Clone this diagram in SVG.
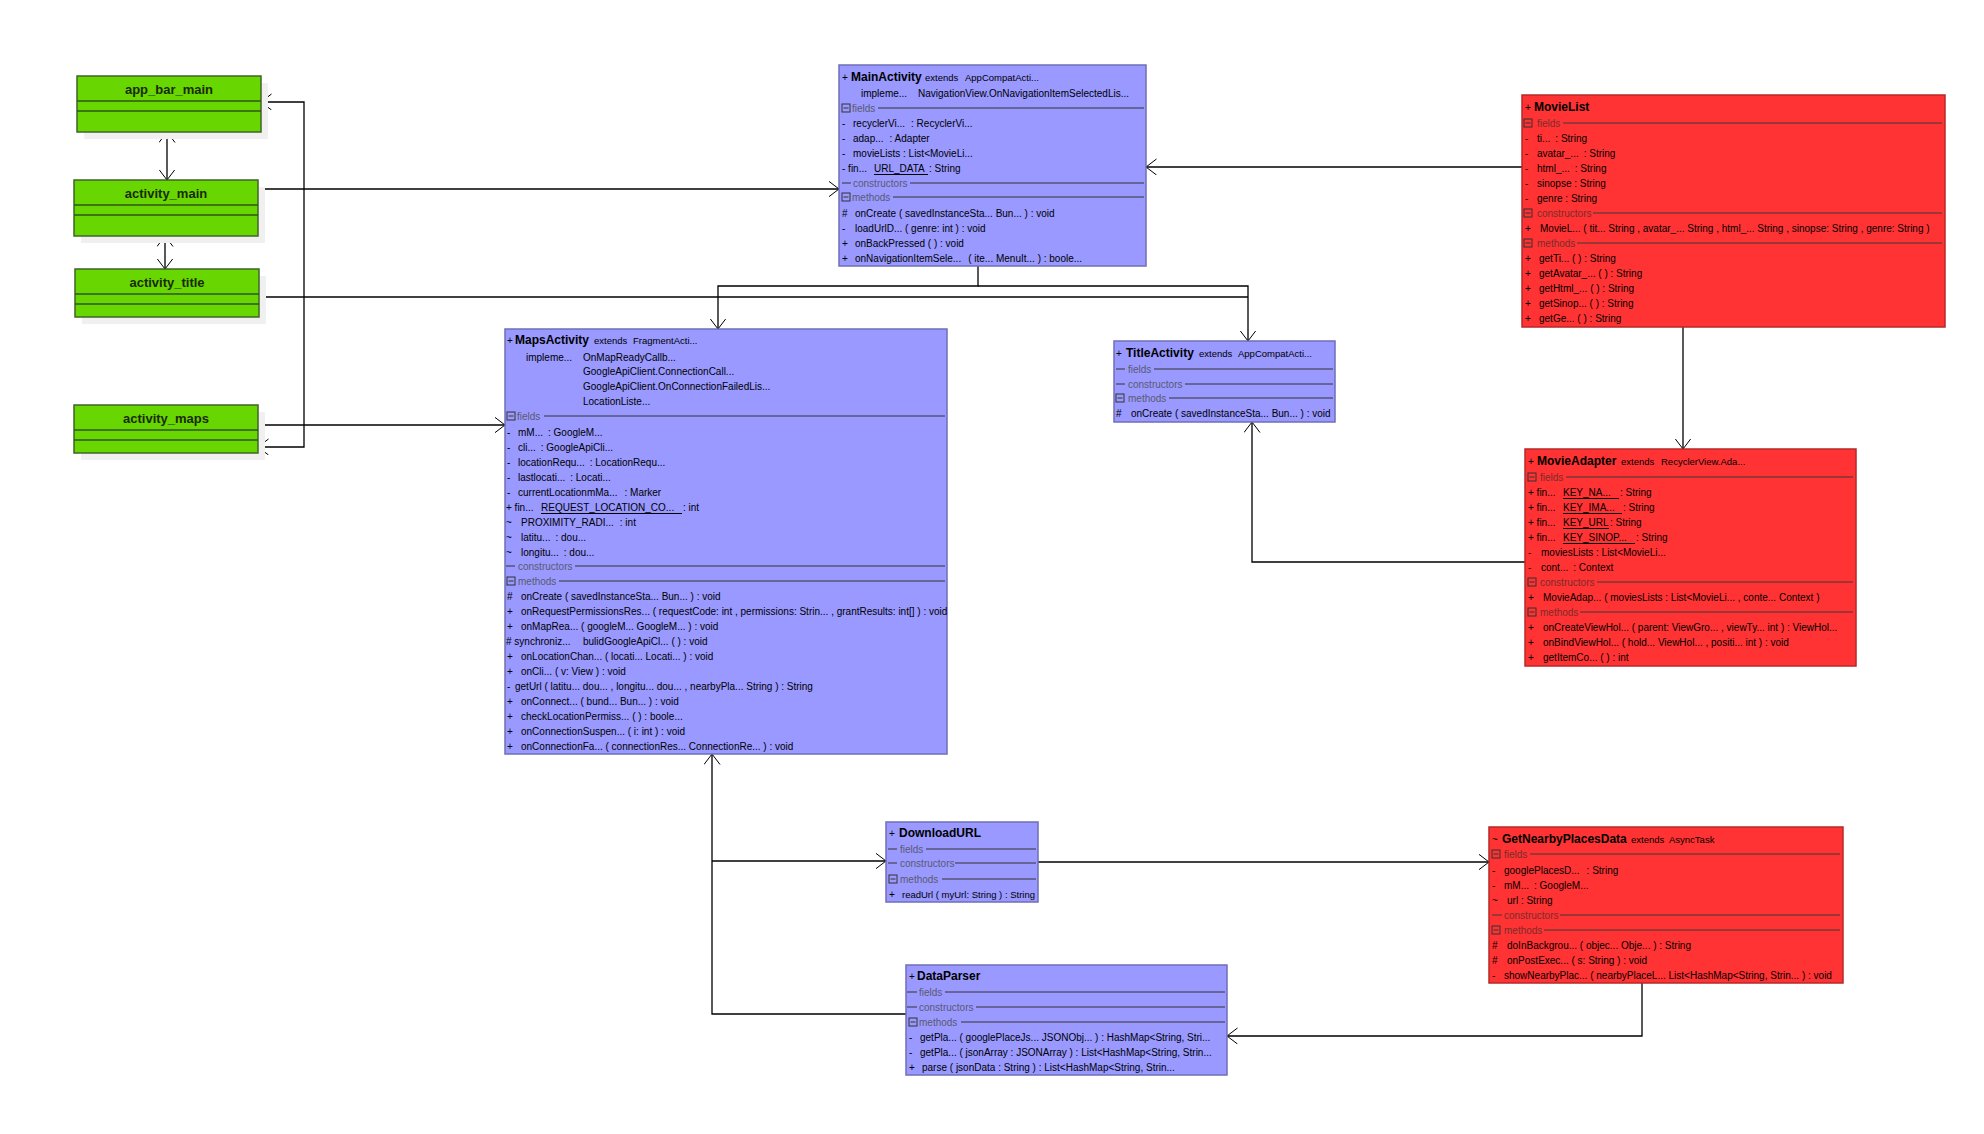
<svg xmlns="http://www.w3.org/2000/svg" width="1984" height="1134" viewBox="0 0 1984 1134">
<defs>
<style>
text{font-family:"Liberation Sans",Arial,sans-serif;font-size:10px;fill:#000}
.b{font-weight:bold;font-size:12px}
.g{font-weight:bold;font-size:13px;fill:#1a2a0a}
.e{font-size:9.5px}
.s{fill:#5a5a70}
.sr{fill:#7a2c2c}
.blue{fill:#9999ff;stroke:#6f6fb8;stroke-width:1.5}
.red{fill:#ff3333;stroke:#b82828;stroke-width:1.5}
.green{fill:#68d600;stroke:#3f6428;stroke-width:1.5}
.shd{fill:#f0f0f0}
.dv{stroke:#2e5418;stroke-width:1.5}
.ln{stroke:#333;stroke-width:1}
.lnr{stroke:#3a3a3a;stroke-width:1}
.ic{fill:none;stroke:#333;stroke-width:1}
.ul{stroke:#000;stroke-width:1}
.c{fill:none;stroke:#000;stroke-width:1.3}
</style>
<marker id="a" viewBox="0 0 12 18" markerWidth="12" markerHeight="18" refX="10.5" refY="8" orient="auto-start-reverse" markerUnits="userSpaceOnUse">
<path d="M0,0 L10.5,8 L0,16" fill="none" stroke="#000" stroke-width="1"/>
</marker>
<symbol id="ico" overflow="visible"><rect x="0" y="0" width="8" height="8" class="ic"/><line x1="1.5" y1="4" x2="6.5" y2="4" class="ic"/></symbol>
</defs>
<rect width="1984" height="1134" fill="#fff"/>

<g id="connectors">
<path class="c" d="M167,132 V180" marker-start="url(#a)" marker-end="url(#a)"/>
<path class="c" d="M165,236 V269" marker-start="url(#a)" marker-end="url(#a)"/>
<path class="c" d="M261,102 H304 V447 H258" marker-start="url(#a)" marker-end="url(#a)"/>
<path class="c" d="M258,189 H839" marker-end="url(#a)"/>
<path class="c" d="M978,266 V286 H718 V329" marker-end="url(#a)"/>
<path class="c" d="M978,286 H1248 V341" marker-end="url(#a)"/>
<path class="c" d="M259,297 H1248"/>
<path class="c" d="M258,425 H505" marker-end="url(#a)"/>
<path class="c" d="M1522,167 H1146" marker-end="url(#a)"/>
<path class="c" d="M1683,327 V449" marker-end="url(#a)"/>
<path class="c" d="M1525,562 H1252 V422" marker-end="url(#a)"/>
<path class="c" d="M906,1014 H712 V754" marker-end="url(#a)"/>
<path class="c" d="M712,861 H886" marker-end="url(#a)"/>
<path class="c" d="M1038,862 H1489" marker-end="url(#a)"/>
<path class="c" d="M1642,983 V1036 H1227" marker-end="url(#a)"/>
</g>

<g id="app_bar_main">
<rect class="shd" x="84" y="83" width="184" height="56"/>
<rect class="green" x="77" y="76" width="184" height="56"/>
<line class="dv" x1="77" y1="101" x2="261" y2="101"/><line class="dv" x1="77" y1="111" x2="261" y2="111"/>
<text class="g" x="169" y="93.5" text-anchor="middle">app_bar_main</text>
</g>
<g id="activity_main">
<rect class="shd" x="81" y="187" width="184" height="56"/>
<rect class="green" x="74" y="180" width="184" height="56"/>
<line class="dv" x1="74" y1="205" x2="258" y2="205"/><line class="dv" x1="74" y1="215" x2="258" y2="215"/>
<text class="g" x="166" y="197.5" text-anchor="middle">activity_main</text>
</g>
<g id="activity_title">
<rect class="shd" x="82" y="276" width="184" height="48"/>
<rect class="green" x="75" y="269" width="184" height="48"/>
<line class="dv" x1="75" y1="294" x2="259" y2="294"/><line class="dv" x1="75" y1="304" x2="259" y2="304"/>
<text class="g" x="167" y="286.5" text-anchor="middle">activity_title</text>
</g>
<g id="activity_maps">
<rect class="shd" x="81" y="412" width="184" height="48"/>
<rect class="green" x="74" y="405" width="184" height="48"/>
<line class="dv" x1="74" y1="430" x2="258" y2="430"/><line class="dv" x1="74" y1="440" x2="258" y2="440"/>
<text class="g" x="166" y="422.5" text-anchor="middle">activity_maps</text>
</g>

<g id="MainActivity">
<rect class="blue" x="839" y="65" width="307" height="201"/>
<text x="842" y="81">+</text><text class="b" x="851" y="81">MainActivity</text><text class="e" x="925" y="81">extends</text><text class="e" x="965" y="81">AppCompatActi...</text>
<text x="861" y="97">impleme...</text><text x="918" y="97">NavigationView.OnNavigationItemSelectedLis...</text>
<use href="#ico" x="842" y="104"/><text class="s" x="852" y="111.5">fields</text><line class="ln" x1="878" y1="108" x2="1144" y2="108"/>
<text x="842" y="126.5">-</text><text x="853" y="126.5">recyclerVi...<tspan dx="6">: RecyclerVi...</tspan></text>
<text x="842" y="141.5">-</text><text x="853" y="141.5">adap...<tspan dx="6">: Adapter</tspan></text>
<text x="842" y="156.5">-</text><text x="853" y="156.5">movieLists : List&lt;MovieLi...</text>
<text x="842" y="171.5">- fin...</text><text x="874" y="171.5">URL_DATA</text><line class="ul" x1="874" y1="174.5" x2="928" y2="174.5"/><text x="929" y="171.5">: String</text>
<line class="ln" x1="842" y1="183" x2="851" y2="183"/><text class="s" x="853" y="186.5">constructors</text><line class="ln" x1="910" y1="183" x2="1144" y2="183"/>
<use href="#ico" x="842" y="193"/><text class="s" x="852" y="200.5">methods</text><line class="ln" x1="893" y1="197" x2="1144" y2="197"/>
<text x="842" y="216.5">#</text><text x="855" y="216.5">onCreate ( savedInstanceSta... Bun... ) : void</text>
<text x="842" y="231.5">-</text><text x="855" y="231.5">loadUrlD... ( genre: int ) : void</text>
<text x="842" y="246.5">+</text><text x="855" y="246.5">onBackPressed ( ) : void</text>
<text x="842" y="261.5">+</text><text x="855" y="261.5">onNavigationItemSele...<tspan dx="7">( ite... MenuIt... ) : boole...</tspan></text>
</g>

<g id="MovieList">
<rect class="red" x="1522" y="95" width="423" height="232"/>
<text x="1525" y="111">+</text><text class="b" x="1534" y="111">MovieList</text>
<use href="#ico" x="1524" y="119"/><text class="sr" x="1537" y="126.5">fields</text><line class="lnr" x1="1563" y1="123" x2="1942" y2="123"/>
<text x="1525" y="141.5">-</text><text x="1537" y="141.5">ti...<tspan dx="5">: String</tspan></text>
<text x="1525" y="156.5">-</text><text x="1537" y="156.5">avatar_...<tspan dx="5">: String</tspan></text>
<text x="1525" y="171.5">-</text><text x="1537" y="171.5">html_...<tspan dx="5">: String</tspan></text>
<text x="1525" y="186.5">-</text><text x="1537" y="186.5">sinopse : String</text>
<text x="1525" y="201.5">-</text><text x="1537" y="201.5">genre : String</text>
<use href="#ico" x="1524" y="209"/><text class="sr" x="1537" y="216.5">constructors</text><line class="lnr" x1="1593" y1="213" x2="1942" y2="213"/>
<text x="1525" y="231.5">+</text><text x="1540" y="231.5">MovieL... ( tit... String , avatar_... String , html_... String , sinopse: String , genre: String )</text>
<use href="#ico" x="1524" y="239"/><text class="sr" x="1537" y="246.5">methods</text><line class="lnr" x1="1577" y1="243" x2="1942" y2="243"/>
<text x="1525" y="261.5">+</text><text x="1539" y="261.5">getTi... ( ) : String</text>
<text x="1525" y="276.5">+</text><text x="1539" y="276.5">getAvatar_... ( ) : String</text>
<text x="1525" y="291.5">+</text><text x="1539" y="291.5">getHtml_... ( ) : String</text>
<text x="1525" y="306.5">+</text><text x="1539" y="306.5">getSinop... ( ) : String</text>
<text x="1525" y="321.5">+</text><text x="1539" y="321.5">getGe... ( ) : String</text>
</g>

<g id="MapsActivity">
<rect class="blue" x="505" y="329" width="442" height="425"/>
<text x="507" y="344">+</text><text class="b" x="515" y="344">MapsActivity</text><text class="e" x="594" y="344">extends</text><text class="e" x="633" y="344">FragmentActi...</text>
<text x="526" y="360.5">impleme...</text><text x="583" y="360.5">OnMapReadyCallb...</text>
<text x="583" y="374.5">GoogleApiClient.ConnectionCall...</text>
<text x="583" y="389.5">GoogleApiClient.OnConnectionFailedLis...</text>
<text x="583" y="404.5">LocationListe...</text>
<use href="#ico" x="507" y="412"/><text class="s" x="517" y="419.5">fields</text><line class="ln" x1="544" y1="416" x2="945" y2="416"/>
<text x="507" y="435.5">-</text><text x="518" y="435.5">mM...<tspan dx="5">: GoogleM...</tspan></text>
<text x="507" y="450.5">-</text><text x="518" y="450.5">cli...<tspan dx="5">: GoogleApiCli...</tspan></text>
<text x="507" y="465.5">-</text><text x="518" y="465.5">locationRequ...<tspan dx="5">: LocationRequ...</tspan></text>
<text x="507" y="480.5">-</text><text x="518" y="480.5">lastlocati...<tspan dx="5">: Locati...</tspan></text>
<text x="507" y="495.5">-</text><text x="518" y="495.5">currentLocationmMa...<tspan dx="7">: Marker</tspan></text>
<text x="506" y="510.5">+ fin...</text><text x="541" y="510.5">REQUEST_LOCATION_CO...</text><line class="ul" x1="541" y1="513.5" x2="682" y2="513.5"/><text x="683" y="510.5">: int</text>
<text x="506" y="525.5">~</text><text x="521" y="525.5">PROXIMITY_RADI...<tspan dx="6">: int</tspan></text>
<text x="506" y="540.5">~</text><text x="521" y="540.5">latitu...<tspan dx="5">: dou...</tspan></text>
<text x="506" y="555.5">~</text><text x="521" y="555.5">longitu...<tspan dx="5">: dou...</tspan></text>
<line class="ln" x1="506" y1="566" x2="515" y2="566"/><text class="s" x="518" y="569.5">constructors</text><line class="ln" x1="575" y1="566" x2="945" y2="566"/>
<use href="#ico" x="507" y="577"/><text class="s" x="518" y="584.5">methods</text><line class="ln" x1="559" y1="581" x2="945" y2="581"/>
<text x="507" y="599.5">#</text><text x="521" y="599.5">onCreate ( savedInstanceSta... Bun... ) : void</text>
<text x="507" y="614.5">+</text><text x="521" y="614.5">onRequestPermissionsRes... ( requestCode: int , permissions: Strin... , grantResults: int[] ) : void</text>
<text x="507" y="629.5">+</text><text x="521" y="629.5">onMapRea... ( googleM... GoogleM... ) : void</text>
<text x="506" y="644.5"># synchroniz...</text><text x="583" y="644.5">bulidGoogleApiCl... ( ) : void</text>
<text x="507" y="659.5">+</text><text x="521" y="659.5">onLocationChan... ( locati... Locati... ) : void</text>
<text x="507" y="674.5">+</text><text x="521" y="674.5">onCli... ( v: View ) : void</text>
<text x="507" y="689.5">-</text><text x="515" y="689.5">getUrl ( latitu... dou... , longitu... dou... , nearbyPla... String ) : String</text>
<text x="507" y="704.5">+</text><text x="521" y="704.5">onConnect... ( bund... Bun... ) : void</text>
<text x="507" y="719.5">+</text><text x="521" y="719.5">checkLocationPermiss... ( ) : boole...</text>
<text x="507" y="734.5">+</text><text x="521" y="734.5">onConnectionSuspen... ( i: int ) : void</text>
<text x="507" y="749.5">+</text><text x="521" y="749.5">onConnectionFa... ( connectionRes... ConnectionRe... ) : void</text>
</g>

<g id="TitleActivity">
<rect class="blue" x="1114" y="341" width="221" height="81"/>
<text x="1116" y="357">+</text><text class="b" x="1126" y="357">TitleActivity</text><text class="e" x="1199" y="357">extends</text><text class="e" x="1238" y="357">AppCompatActi...</text>
<line class="ln" x1="1116" y1="369" x2="1125" y2="369"/><text class="s" x="1128" y="372.5">fields</text><line class="ln" x1="1154" y1="369" x2="1333" y2="369"/>
<line class="ln" x1="1116" y1="384" x2="1125" y2="384"/><text class="s" x="1128" y="387.5">constructors</text><line class="ln" x1="1185" y1="384" x2="1333" y2="384"/>
<use href="#ico" x="1116" y="394"/><text class="s" x="1128" y="401.5">methods</text><line class="ln" x1="1169" y1="398" x2="1333" y2="398"/>
<text x="1116" y="416.5">#</text><text x="1131" y="416.5">onCreate ( savedInstanceSta... Bun... ) : void</text>
</g>

<g id="MovieAdapter">
<rect class="red" x="1525" y="449" width="331" height="217"/>
<text x="1528" y="465">+</text><text class="b" x="1537" y="465">MovieAdapter</text><text class="e" x="1621" y="465">extends</text><text class="e" x="1661" y="465">RecyclerView.Ada...</text>
<use href="#ico" x="1528" y="473"/><text class="sr" x="1540" y="480.5">fields</text><line class="lnr" x1="1566" y1="477" x2="1853" y2="477"/>
<text x="1528" y="495.5">+ fin...</text><text x="1563" y="495.5">KEY_NA...</text><line class="ul" x1="1563" y1="498.5" x2="1619" y2="498.5"/><text x="1620" y="495.5">: String</text>
<text x="1528" y="510.5">+ fin...</text><text x="1563" y="510.5">KEY_IMA...</text><line class="ul" x1="1563" y1="513.5" x2="1622" y2="513.5"/><text x="1623" y="510.5">: String</text>
<text x="1528" y="525.5">+ fin...</text><text x="1563" y="525.5">KEY_URL</text><line class="ul" x1="1563" y1="528.5" x2="1609" y2="528.5"/><text x="1610" y="525.5">: String</text>
<text x="1528" y="540.5">+ fin...</text><text x="1563" y="540.5">KEY_SINOP...</text><line class="ul" x1="1563" y1="543.5" x2="1635" y2="543.5"/><text x="1636" y="540.5">: String</text>
<text x="1528" y="555.5">-</text><text x="1541" y="555.5">moviesLists : List&lt;MovieLi...</text>
<text x="1528" y="570.5">-</text><text x="1541" y="570.5">cont...<tspan dx="5">: Context</tspan></text>
<use href="#ico" x="1528" y="578"/><text class="sr" x="1540" y="585.5">constructors</text><line class="lnr" x1="1597" y1="582" x2="1853" y2="582"/>
<text x="1528" y="600.5">+</text><text x="1543" y="600.5">MovieAdap... ( moviesLists : List&lt;MovieLi... , conte... Context )</text>
<use href="#ico" x="1528" y="608"/><text class="sr" x="1540" y="615.5">methods</text><line class="lnr" x1="1580" y1="612" x2="1853" y2="612"/>
<text x="1528" y="630.5">+</text><text x="1543" y="630.5">onCreateViewHol... ( parent: ViewGro... , viewTy... int ) : ViewHol...</text>
<text x="1528" y="645.5">+</text><text x="1543" y="645.5">onBindViewHol... ( hold... ViewHol... , positi... int ) : void</text>
<text x="1528" y="660.5">+</text><text x="1543" y="660.5">getItemCo... ( ) : int</text>
</g>

<g id="DownloadURL">
<rect class="blue" x="886" y="822" width="152" height="80"/>
<text x="889" y="837">+</text><text class="b" x="899" y="837">DownloadURL</text>
<line class="ln" x1="888" y1="849" x2="897" y2="849"/><text class="s" x="900" y="852.5">fields</text><line class="ln" x1="926" y1="849" x2="1036" y2="849"/>
<line class="ln" x1="888" y1="863" x2="897" y2="863"/><text class="s" x="900" y="866.5">constructors</text><line class="ln" x1="955" y1="863" x2="1036" y2="863"/>
<use href="#ico" x="889" y="875"/><text class="s" x="900" y="882.5">methods</text><line class="ln" x1="942" y1="879" x2="1036" y2="879"/>
<text x="889" y="897.5">+</text><text x="902" y="897.5" style="font-size:9.5px">readUrl ( myUrl: String ) : String</text>
</g>

<g id="GetNearbyPlacesData">
<rect class="red" x="1489" y="827" width="354" height="156"/>
<text x="1492" y="843">~</text><text class="b" x="1502" y="843">GetNearbyPlacesData</text><text class="e" x="1631" y="843">extends</text><text class="e" x="1669" y="843">AsyncTask</text>
<use href="#ico" x="1492" y="850"/><text class="sr" x="1504" y="857.5">fields</text><line class="lnr" x1="1530" y1="854" x2="1840" y2="854"/>
<text x="1492" y="873.5">-</text><text x="1504" y="873.5">googlePlacesD...<tspan dx="7">: String</tspan></text>
<text x="1492" y="888.5">-</text><text x="1504" y="888.5">mM...<tspan dx="5">: GoogleM...</tspan></text>
<text x="1492" y="903.5">~</text><text x="1507" y="903.5">url : String</text>
<line class="lnr" x1="1492" y1="915" x2="1502" y2="915"/><text class="sr" x="1504" y="918.5">constructors</text><line class="lnr" x1="1560" y1="915" x2="1840" y2="915"/>
<use href="#ico" x="1492" y="926"/><text class="sr" x="1504" y="933.5">methods</text><line class="lnr" x1="1544" y1="930" x2="1840" y2="930"/>
<text x="1492" y="948.5">#</text><text x="1507" y="948.5">doInBackgrou... ( objec... Obje... ) : String</text>
<text x="1492" y="963.5">#</text><text x="1507" y="963.5">onPostExec... ( s: String ) : void</text>
<text x="1492" y="978.5">-</text><text x="1504" y="978.5">showNearbyPlac... ( nearbyPlaceL... List&lt;HashMap&lt;String, Strin... ) : void</text>
</g>

<g id="DataParser">
<rect class="blue" x="906" y="965" width="321" height="110"/>
<text x="909" y="980">+</text><text class="b" x="917" y="980">DataParser</text>
<line class="ln" x1="907" y1="992" x2="917" y2="992"/><text class="s" x="919" y="995.5">fields</text><line class="ln" x1="945" y1="992" x2="1225" y2="992"/>
<line class="ln" x1="907" y1="1007" x2="917" y2="1007"/><text class="s" x="919" y="1010.5">constructors</text><line class="ln" x1="976" y1="1007" x2="1225" y2="1007"/>
<use href="#ico" x="909" y="1018"/><text class="s" x="919" y="1025.5">methods</text><line class="ln" x1="961" y1="1022" x2="1225" y2="1022"/>
<text x="909" y="1040.5">-</text><text x="920" y="1040.5">getPla... ( googlePlaceJs... JSONObj... ) : HashMap&lt;String, Stri...</text>
<text x="909" y="1055.5">-</text><text x="920" y="1055.5">getPla... ( jsonArray : JSONArray ) : List&lt;HashMap&lt;String, Strin...</text>
<text x="909" y="1070.5">+</text><text x="922" y="1070.5">parse ( jsonData : String ) : List&lt;HashMap&lt;String, Strin...</text>
</g>
</svg>
